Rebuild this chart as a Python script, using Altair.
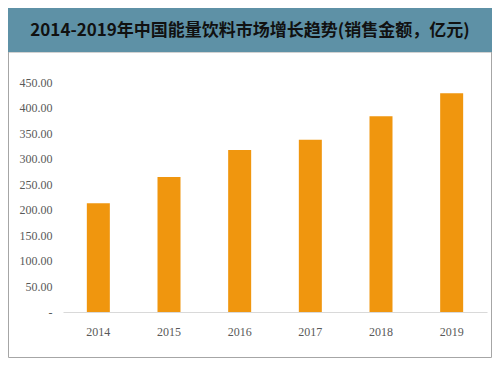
import altair as alt
import pandas as pd

years = ["2014", "2015", "2016", "2017", "2018", "2019"]
sales = [213, 264, 317, 337, 383, 428]
y_ticks = [0, 50, 100, 150, 200, 250, 300, 350, 400, 450]
title_text = "2014-2019年中国能量饮料市场增长趋势(销售金额，亿元)"

df = pd.DataFrame({"year": years, "value": sales})
one = alt.Data(values=[{"a": 1}])

frame = alt.Chart(one).mark_rect(fillOpacity=0, stroke="#a6a6a6", strokeWidth=1).encode(
    x=alt.value(-54.5), x2=alt.value(428.5), y=alt.value(-30), y2=alt.value(275.5)
)
banner = alt.Chart(one).mark_rect(fill="#5e91a6").encode(
    x=alt.value(-55), x2=alt.value(429), y=alt.value(-74), y2=alt.value(-30)
)
title = alt.Chart(one).mark_text(
    text=title_text, font="Noto Sans CJK SC", fontWeight="bold", fontSize=17,
    color="#111111", align="center", baseline="middle"
).encode(x=alt.value(187), y=alt.value(-51))

bars = alt.Chart(df).mark_bar(color="#f0960e", size=23).encode(
    x=alt.X("year:N", sort=years,
            scale=alt.Scale(paddingInner=0, paddingOuter=0),
            axis=alt.Axis(title=None, labelAngle=0, ticks=False, domain=True,
                          domainColor="#d9d9d9", domainWidth=1, zindex=1,
                          labelFont="Liberation Serif", labelFontSize=12,
                          labelColor="#595959", labelPadding=14, grid=False)),
    y=alt.Y("value:Q", scale=alt.Scale(domain=[0, 450], nice=False),
            axis=alt.Axis(title=None, values=y_ticks, ticks=False, domain=False,
                          grid=False, labelFont="Liberation Serif", labelFontSize=12,
                          labelColor="#595959", labelPadding=11, zindex=1,
                          labelExpr="datum.value == 0 ? '-\u00a0\u00a0\u00a0\u00a0\u00a0\u00a0' : format(datum.value, '.2f')")),
)

chart = alt.layer(frame, banner, title, bars).properties(
    width=424, height=230,
    autosize=alt.AutoSizeParams(type="none"),
    padding={"left": 55, "top": 74, "right": 9, "bottom": 46},
    background="white",
).configure_view(stroke=None)

chart.save("out.html", embed_options={"renderer": "svg", "actions": False})
